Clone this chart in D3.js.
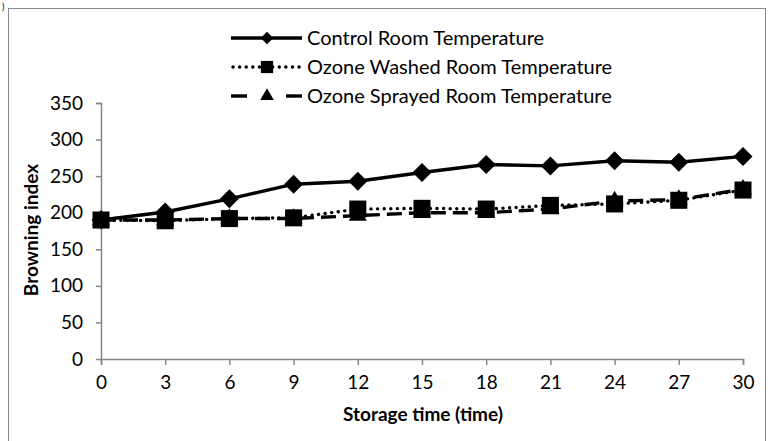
<!DOCTYPE html>
<html><head><meta charset="utf-8">
<script src="https://cdn.jsdelivr.net/npm/d3@7"></script>
<style>body{margin:0;background:#fff}svg{display:block}text{font-family:Lato,"Open Sans",sans-serif}</style>
</head><body><svg id="c" width="769" height="441"></svg>
<script>
const days = [0,3,6,9,12,15,18,21,24,27,30];
const control = [190,201,219,239,243,255,266,264,271,269,277];
const washed  = [190,189,192,193,205,206,205,210,212,217,231];
const sprayed = [190,190,192,192,196,200,200,205,216,218,232];
const yTicks = [0,50,100,150,200,250,300,350];
const seriesNames = ["Control Room Temperature","Ozone Washed Room Temperature","Ozone Sprayed Room Temperature"];

const svg = d3.select("#c");
svg.append("rect").attr("x",8.5).attr("y",8.5).attr("width",757).attr("height",440)
  .attr("fill","none").attr("stroke","#888").attr("stroke-width",1);
svg.append("text").attr("x",2).attr("y",10).attr("font-size",9).attr("fill","#000").text(")");

const x = d3.scaleLinear().domain([0,30]).range([101,743]);
const y = d3.scaleLinear().domain([0,350]).range([359,103]);

const gy = svg.append("g").attr("transform","translate(101,0)")
  .call(d3.axisLeft(y).tickValues(yTicks).tickSize(5).tickPadding(13));
const gx = svg.append("g").attr("transform","translate(0,359)")
  .call(d3.axisBottom(x).tickValues(days).tickSize(6).tickPadding(11));
[gx,gy].forEach(g=>{
  g.select(".domain").attr("stroke","#868686").attr("stroke-width",1.5);
  g.selectAll(".tick line").attr("stroke","#868686").attr("stroke-width",1.5);
  g.selectAll(".tick text").attr("font-size",19).attr("fill","#000");
});
gy.select(".domain").attr("d","M-5,103.5H0.5V359");
gx.selectAll(".tick text").attr("dy","0.71em");

svg.append("text").attr("x",423).attr("y",421).attr("text-anchor","middle")
  .attr("font-size",19).attr("font-weight","bold").text("Storage time (time)");
svg.append("text").attr("transform","translate(38,230) rotate(-90)").attr("text-anchor","middle")
  .attr("font-size",19).attr("font-weight","bold").text("Browning index");

const diamondSym = { draw(ctx, size){ const r = Math.sqrt(size/2); ctx.moveTo(0,-r); ctx.lineTo(r,0); ctx.lineTo(0,r); ctx.lineTo(-r,0); ctx.closePath(); } };

const styles = [
  {vals:control, dash:null, cap:"butt", w:3.4, sym:diamondSym, size:180},
  {vals:washed, dash:"0.1,6.5", cap:"round", w:3.4, sym:d3.symbolSquare, size:290},
  {vals:sprayed, dash:"15,7", cap:"butt", w:3.4, sym:d3.symbolTriangle, size:140}
];
const line = d3.line().x((d,i)=>x(days[i])).y(d=>y(d));

[2,1,0].forEach(k=>{
  const s = styles[k];
  svg.append("path").datum(s.vals).attr("d",line).attr("fill","none")
    .attr("stroke","#000").attr("stroke-width",s.w).attr("stroke-linecap",s.cap)
    .attr("stroke-dasharray",s.dash);
  svg.append("g").selectAll("path").data(s.vals).join("path")
    .attr("transform",(d,i)=>`translate(${x(days[i])},${y(d)})`)
    .attr("d",d3.symbol().type(s.sym).size(s.size)).attr("fill","#000");
});

const leg = svg.append("g");
const legSizes = [80, 150, 80];
seriesNames.forEach((name,i)=>{
  const s = styles[i];
  const yy = 38 + i*29;
  if (i===2) {
    [[231,247],[286,302]].forEach(([a,b])=>leg.append("line").attr("x1",a).attr("x2",b)
      .attr("y1",yy).attr("y2",yy).attr("stroke","#000").attr("stroke-width",s.w));
  } else {
    leg.append("line").attr("x1",i===1?233:231).attr("x2",302).attr("y1",yy).attr("y2",yy)
      .attr("stroke","#000").attr("stroke-width",s.w).attr("stroke-linecap",s.cap)
      .attr("stroke-dasharray", s.dash);
  }
  leg.append("path").attr("transform",`translate(267,${yy})`)
    .attr("d",d3.symbol().type(s.sym).size(legSizes[i])).attr("fill","#000");
  leg.append("text").attr("x",307).attr("y",yy).attr("dy","0.35em").attr("font-size",20)
    .text(name);
});
</script></body></html>
